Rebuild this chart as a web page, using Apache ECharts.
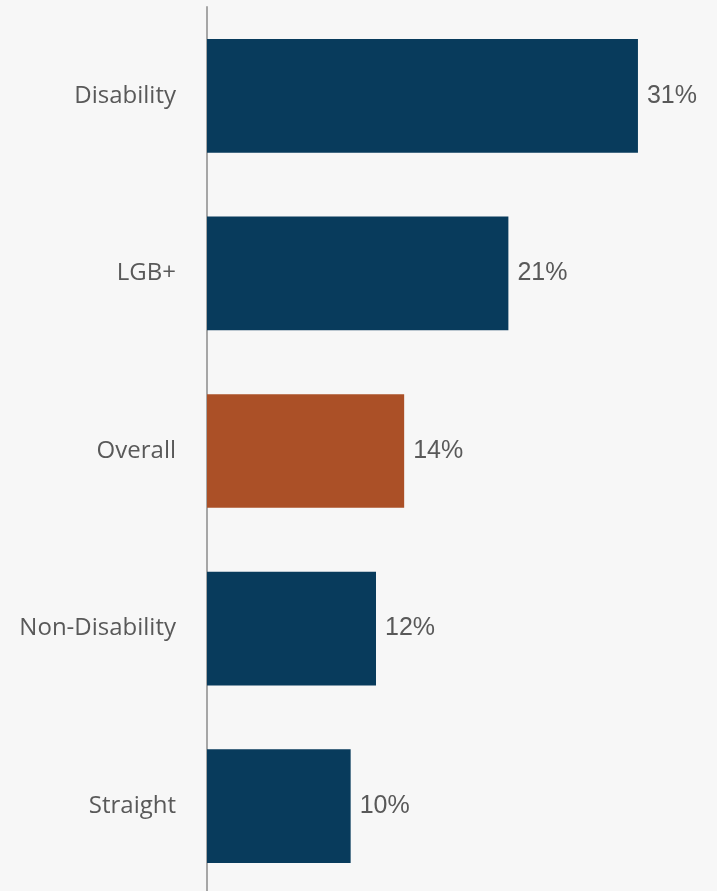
<!DOCTYPE html>
<html>
<head>
<meta charset="utf-8">
<script src="https://cdn.jsdelivr.net/npm/echarts@6/dist/echarts.min.js"></script>
<style>
html,body{margin:0;padding:0;background:#f7f7f7;overflow:hidden;}
#chart{width:717px;height:896px;}
</style>
</head>
<body>
<div id="chart"></div>
<script>
const categories = ["Disability", "LGB+", "Overall", "Non-Disability", "Straight"];
const values = [30.6, 21.4, 14.0, 12.0, 10.2];
const highlight = "Overall";

const chart = echarts.init(document.getElementById('chart'));
chart.setOption({
  backgroundColor: '#f7f7f7',
  animation: false,
  grid: { left: 207, right: 3, top: 7, height: 888, containLabel: false },
  xAxis: {
    type: 'value', min: 0, max: 36,
    show: false
  },
  yAxis: {
    type: 'category',
    data: categories,
    inverse: true,
    axisLine: { show: true, lineStyle: { color: '#a6a6a6', width: 2 } },
    axisTick: { show: false },
    axisLabel: { color: '#595959', fontSize: 24, fontFamily: 'Open Sans', margin: 31 }
  },
  series: [{
    type: 'bar',
    data: values.map((v, i) => ({
      value: v,
      itemStyle: { color: categories[i] === highlight ? '#ab5027' : '#083b5c' }
    })),
    barCategoryGap: '36%',
    label: {
      show: true, position: 'right', distance: 9,
      color: '#595959', fontSize: 25, fontFamily: 'Liberation Sans',
      formatter: p => Math.round(p.value) + '%'
    }
  }]
});
</script>
</body>
</html>
